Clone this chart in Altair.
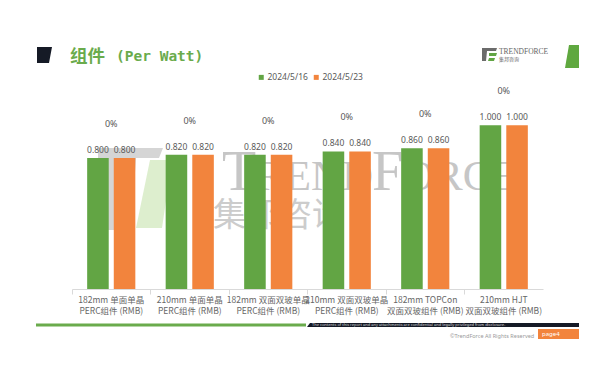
import altair as alt
import pandas as pd

# ---------------- data ----------------
cat_line1 = ["182mm 单面单晶", "210mm 单面单晶", "182mm 双面双玻单晶",
             "210mm 双面双玻单晶", "182mm TOPCon", "210mm HJT"]
cat_line2 = ["PERC组件 (RMB)", "PERC组件 (RMB)", "PERC组件 (RMB)",
             "PERC组件 (RMB)", "双面双玻组件 (RMB)", "双面双玻组件 (RMB)"]
series = ["2024/5/16", "2024/5/23"]
v_0516 = [0.800, 0.820, 0.820, 0.840, 0.860, 1.000]
v_0523 = [0.800, 0.820, 0.820, 0.840, 0.860, 1.000]
change = ["0%", "0%", "0%", "0%", "0%", "0%"]
colors = ["#62A544", "#F2843D"]

categories = [a + "|" + b for a, b in zip(cat_line1, cat_line2)]
rows = []
for s, vals in zip(series, [v_0516, v_0523]):
    for c, v in zip(categories, vals):
        rows.append({"cat": c, "series": s, "value": v})
df = pd.DataFrame(rows)
chg_df = pd.DataFrame({"cat": categories,
                       "top": [max(a, b) for a, b in zip(v_0516, v_0523)],
                       "chg": change})
one = pd.DataFrame({"d": [0]})

# plot origin on page
OX, OY = 72, 100
W, H = 471, 189
FONT = "Noto Sans CJK SC"
GRAY = "#595959"


def poly(px, py, path, color, opacity=1.0):
    return alt.Chart(one).mark_point(
        shape=path, size=4, filled=True, color=color, strokeWidth=0, opacity=opacity
    ).encode(x=alt.value(px - OX), y=alt.value(py - OY))


def txt(px, py, s, size, color, font=FONT, weight="normal", align="left",
        baseline="middle", opacity=1.0):
    return alt.Chart(one).mark_text(
        text=s, fontSize=size, color=color, font=font, fontWeight=weight,
        align=align, baseline=baseline, opacity=opacity
    ).encode(x=alt.value(px - OX), y=alt.value(py - OY))


# ---------------- scales ----------------
xs = alt.Scale(domain=categories, paddingInner=0, paddingOuter=0)
ys = alt.Scale(domain=[0, 1.154], nice=False, zero=True)
xos = alt.Scale(domain=series, paddingInner=0.19, paddingOuter=0.57)

x_axis = alt.Axis(
    title=None, labelExpr="split(datum.label, '|')", labelFont=FONT,
    labelFontSize=8.5, labelColor="#666666", labelLineHeight=11, labelPadding=1,
    labelAngle=0, tickSize=5, tickColor="#d9d9d9", domainColor="#d9d9d9",
    bandPosition=0
)
X = alt.X("cat:N", scale=xs, axis=x_axis)

# ---------------- watermark ----------------
wm_gray = "#c6c6c6"
watermark = [
    poly(98, 148, "M0,0L65,0L61,10L38,10L33,82L0,82Z", "#d0d0d0", 0.9),
    poly(136, 160, "M14,0L36,0L26,68L0,68Z", "#d9ecc9", 0.9),
    txt(222, 190, "T", 56, wm_gray, font="Liberation Serif", baseline="alphabetic"),
    txt(256, 190, "REND", 43, wm_gray, font="Liberation Serif", baseline="alphabetic"),
    txt(372, 190, "F", 56, wm_gray, font="Liberation Serif", baseline="alphabetic"),
    txt(403, 190, "ORCE", 43, wm_gray, font="Liberation Serif", baseline="alphabetic"),
    txt(213, 226, "集邦咨询", 33, "#cccccc", baseline="alphabetic"),
]

# ---------------- data marks ----------------
bars = alt.Chart(df).mark_bar().encode(
    x=X,
    xOffset=alt.XOffset("series:N", scale=xos),
    y=alt.Y("value:Q", scale=ys, axis=None),
    color=alt.Color("series:N", scale=alt.Scale(domain=series, range=colors),
                    legend=alt.Legend(title=None, orient="none", direction="horizontal",
                                      legendX=185, legendY=-27, symbolType="square",
                                      symbolSize=25, symbolStrokeWidth=0,
                                      labelFont="Noto Sans", labelFontSize=8.5,
                                      labelColor=GRAY, columnPadding=4, labelOffset=2)),
)

vals = alt.Chart(df).mark_text(
    baseline="bottom", dy=-3, fontSize=8.5, font="Noto Sans", color=GRAY
).encode(
    x=X,
    xOffset=alt.XOffset("series:N", scale=xos),
    y=alt.Y("value:Q", scale=ys, axis=None),
    text=alt.Text("value:Q", format=".3f"),
)

chg = alt.Chart(chg_df).mark_text(
    baseline="middle", dy=-34, fontSize=9, font="Noto Sans", color=GRAY
).encode(
    x=X,
    y=alt.Y("top:Q", scale=ys, axis=None),
    text="chg:N",
)

# ---------------- slide decorations ----------------
deco = [
    poly(37, 47, "M0,0L15,0L12,16L0,16Z", "#151a26"),
    txt(70, 57, "组件", 17.5, "#6aab4c", weight="bold"),
    txt(116, 57, "(Per Watt)", 14.5, "#6aab4c", font="DejaVu Sans Mono", weight="bold"),
    poly(565, 45, "M4,0L14,0L14,23L0,23Z", "#5fa83f"),
    poly(482, 48, "M0,0L15,0L14,3L5,3L4,13L0,13Z", "#6b6b6b"),
    poly(482, 48, "M7,5L15,5L14,8L7,8Z", "#62A544"),
    poly(482, 48, "M7,10L13,10L12,13L6,13Z", "#62A544"),
    txt(499, 52, "TRENDFORCE", 7.5, "#666666", font="Liberation Serif"),
    txt(499, 58.5, "集邦咨询", 5, "#666666"),
    poly(36, 323.5, "M0,0L270,0L270,3L0,3Z", "#6aab4c"),
    poly(307, 323, "M3,0L272,0L272,4L0,4Z", "#151a26"),
    txt(312, 325, "The contents of this report and any attachments are confidential and legally privileged from disclosure.",
        4, "#dddddd", font="Noto Sans"),
    txt(450, 336, "©TrendForce All Rights Reserved", 5.5, "#9a9a9a", font="Noto Sans"),
    poly(538, 329, "M0,0L41,0L41,10L0,10Z", "#F2843D"),
    txt(542, 334, "page4", 6, "#ffffff", font="Noto Sans"),
]

chart = alt.layer(*watermark, bars, vals, chg, *deco).properties(
    width=W, height=H,
    autosize=alt.AutoSizeParams(type="none"),
    padding={"left": OX - 8, "top": OY - 8, "right": 604 - OX - W, "bottom": 361 - OY - H},
).configure_view(stroke=None)

chart.save("out.html", embed_options={"renderer": "svg", "actions": False})
